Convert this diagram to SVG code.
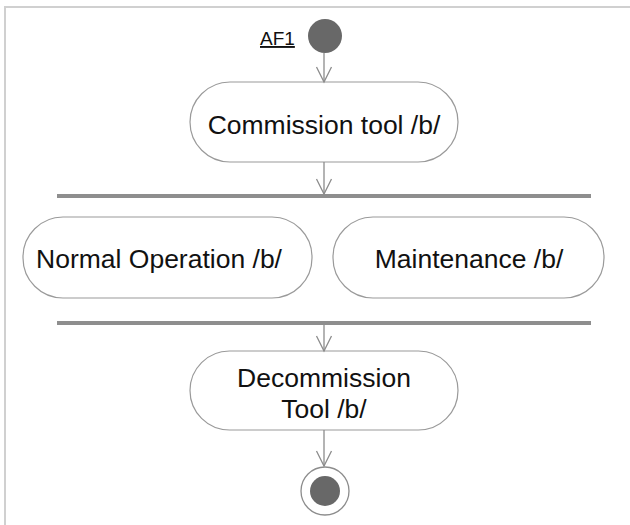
<svg xmlns="http://www.w3.org/2000/svg" width="630" height="525" viewBox="0 0 630 525">
  <defs>
    <marker id="open" markerUnits="userSpaceOnUse" markerWidth="20" markerHeight="20" viewBox="0 0 20 20" refX="16" refY="10" orient="auto">
      <path d="M1,2.5 L16,10 L1,17.5" fill="none" stroke="#8c8c8c" stroke-width="1.3"/>
    </marker>
    <style>
      .box { fill: #ffffff; stroke: #9a9a9a; stroke-width: 1.2; }
      .lbl { font-family: "Liberation Sans", Arial, sans-serif; font-size: 26.5px; fill: #111; text-anchor: middle; }
      .bar { stroke: #8e8e8e; stroke-width: 4; }
      .edge { stroke: #8c8c8c; stroke-width: 1.3; fill: none; marker-end: url(#open); }
      .frame { stroke: #d0d0d0; stroke-width: 2; fill: none; }
    </style>
  </defs>
  <rect width="630" height="525" fill="#ffffff"/>
  <path class="frame" d="M5,525 L5,7 L630,7"/>

  <g id="initial">
    <circle cx="325" cy="36" r="17" fill="#686868"/>
    <text x="260" y="45" font-family="Liberation Sans, Arial, sans-serif" font-size="19" fill="#111" text-decoration="underline">AF1</text>
  </g>

  <g id="commission">
    <rect class="box" x="190" y="82" width="268" height="80" rx="40" ry="40"/>
    <text class="lbl" x="324" y="134">Commission tool /b/</text>
  </g>

  <g id="fork">
    <line class="bar" x1="57" y1="196" x2="591" y2="196"/>
  </g>

  <g id="normal">
    <rect class="box" x="23" y="217" width="289" height="81" rx="40" ry="40"/>
    <text class="lbl" x="159" y="268">Normal Operation /b/</text>
  </g>

  <g id="maintenance">
    <rect class="box" x="333" y="217" width="271" height="81" rx="40" ry="40"/>
    <text class="lbl" x="469" y="268">Maintenance /b/</text>
  </g>

  <g id="join">
    <line class="bar" x1="57" y1="323" x2="591" y2="323"/>
  </g>

  <g id="decommission">
    <rect class="box" x="190" y="351" width="268" height="79" rx="39.5" ry="39.5"/>
    <text class="lbl" x="324" y="387">Decommission</text>
    <text class="lbl" x="324" y="418">Tool /b/</text>
  </g>

  <g id="final">
    <circle cx="325" cy="491" r="24" fill="#ffffff" stroke="#8c8c8c" stroke-width="1.3"/>
    <circle cx="325" cy="491" r="15" fill="#686868"/>
  </g>

  <g id="connectors">
    <line class="edge" x1="324" y1="53" x2="324" y2="82"/>
    <line class="edge" x1="324" y1="162" x2="324" y2="194"/>
    <line class="edge" x1="324" y1="325" x2="324" y2="351"/>
    <line class="edge" x1="324" y1="430" x2="324" y2="466"/>
  </g>
</svg>
